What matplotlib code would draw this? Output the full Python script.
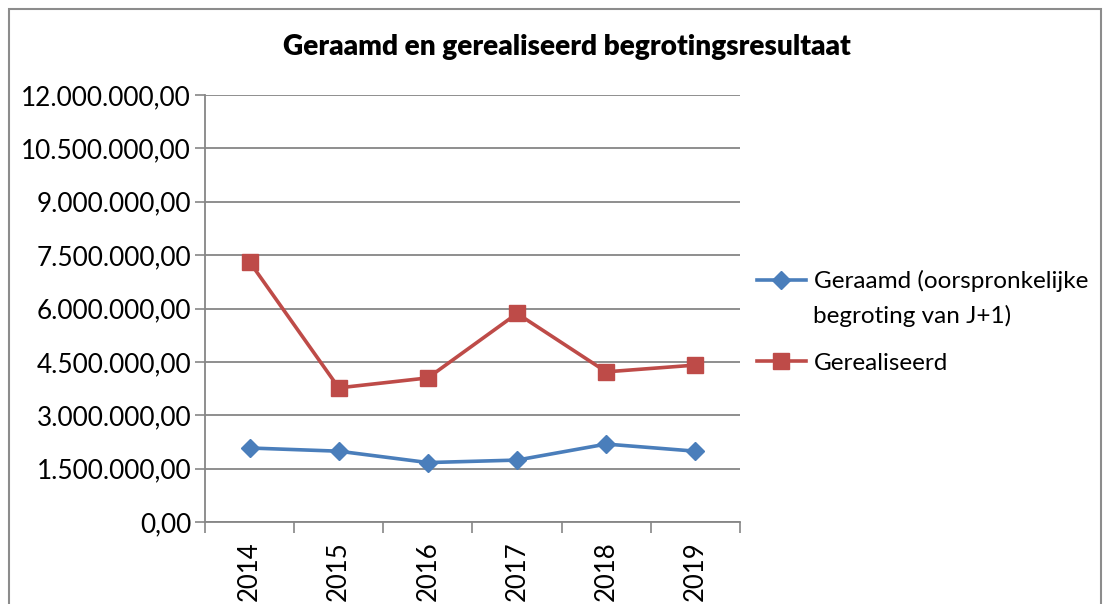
import numpy as np
import matplotlib.pyplot as plt
from matplotlib.ticker import FuncFormatter, MultipleLocator
from matplotlib.patches import Rectangle

years = ['2014', '2015', '2016', '2017', '2018', '2019']
geraamd = [2080000, 1990000, 1670000, 1740000, 2190000, 1990000]
gerealiseerd = [7310000, 3770000, 4050000, 5860000, 4220000, 4410000]

plt.rcParams['font.family'] = ['Lato', 'DejaVu Sans']

fig = plt.figure(figsize=(11.09, 6.04), dpi=100)
ax = fig.add_axes([205/1109, 1-522/604, 535/1109, 427/604])

x = np.arange(len(years))
ax.plot(x, geraamd, color='#4A7EBB', lw=2.6, marker='D', ms=9.5,
        label='Geraamd (oorspronkelijke')
ax.plot(x, gerealiseerd, color='#BE4B48', lw=2.6, marker='s', ms=11,
        label='Gerealiseerd')

ax.set_xlim(-0.5, len(years) - 0.5)
ax.set_ylim(0, 12000000)
ax.yaxis.set_major_locator(MultipleLocator(1500000))

def fmt(v, pos):
    s = f"{v:,.2f}"
    return s.replace(',', 'X').replace('.', ',').replace('X', '.')

ax.yaxis.set_major_formatter(FuncFormatter(fmt))
ax.set_xticks(x)
ax.set_xticklabels(years, rotation=90)
ax.set_xticks(np.arange(len(years) + 1) - 0.5, minor=True)
ax.tick_params(axis='x', which='major', length=0, pad=14, labelsize=18.5)
ax.tick_params(axis='x', which='minor', length=8, width=1.2, color='#868686')
ax.tick_params(axis='y', length=7, width=1.2, color='#868686', labelsize=18.8, pad=3)

ax.grid(axis='y', color='#868686', lw=1.3)
ax.set_axisbelow(True)
for side in ['top', 'right']:
    ax.spines[side].set_visible(False)
for side in ['left', 'bottom']:
    ax.spines[side].set_color('#868686')
    ax.spines[side].set_linewidth(1.3)

fig.text(567/1109, 1-47/604, 'Geraamd en gerealiseerd begrotingsresultaat',
         ha='center', va='center', fontsize=20.2, fontweight='heavy')

leg = fig.legend(loc='upper left', bbox_to_anchor=(757/1109, 1-270/604),
                 frameon=False, fontsize=17.5, handlelength=2.0,
                 handletextpad=0.33, labelspacing=2.5, borderaxespad=0,
                 borderpad=0)
fig.text(813/1109, 1-316/604, 'begroting van J+1)', fontsize=17.5,
         ha='left', va='center')

fig.patches.append(Rectangle((9/1109, -0.1), 1092/1109, 1.1 - 9/604,
                             transform=fig.transFigure, fill=False,
                             edgecolor='#8c8c8c', lw=1.5))

fig.savefig('out.png', dpi=100)
